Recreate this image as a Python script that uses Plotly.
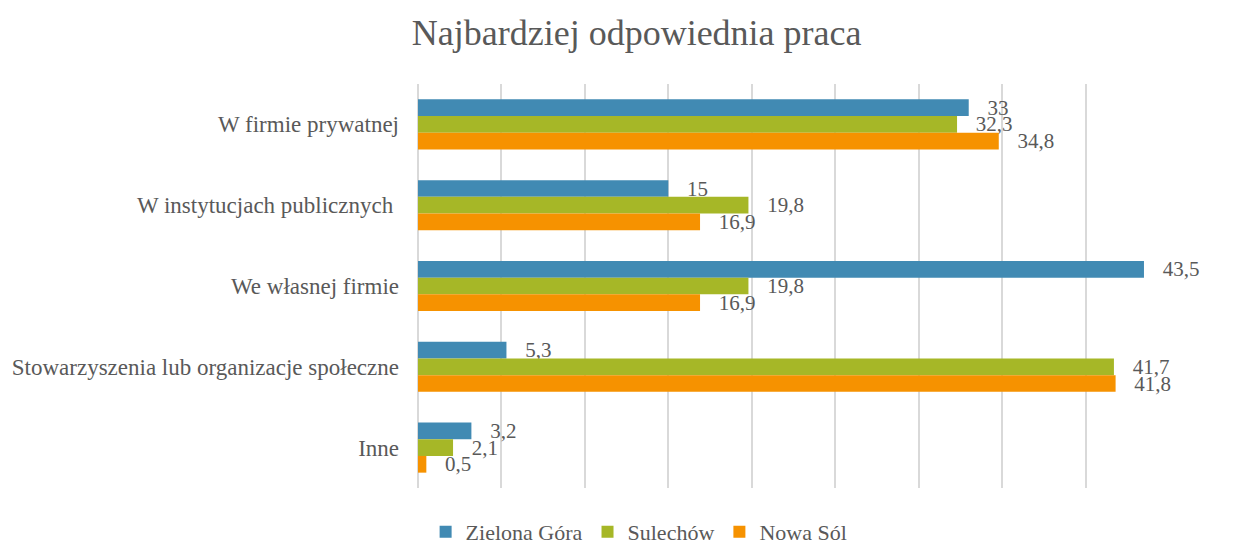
import plotly.graph_objects as go

categories = [
    "W firmie prywatnej",
    "W instytucjach publicznych ",
    "We własnej firmie",
    "Stowarzyszenia lub organizacje społeczne",
    "Inne",
]
zielona_gora = [33, 15, 43.5, 5.3, 3.2]
sulechow = [32.3, 19.8, 19.8, 41.7, 2.1]
nowa_sol = [34.8, 16.9, 16.9, 41.8, 0.5]

series = [
    ("Zielona Góra", zielona_gora, "#418AB3"),
    ("Sulechów", sulechow, "#A6B727"),
    ("Nowa Sól", nowa_sol, "#F69200"),
]

font_family = "Liberation Serif"
text_color = "#595959"
pad = "\u00a0\u00a0\u00a0"

fig = go.Figure()
for name, vals, color in series:
    fig.add_trace(
        go.Bar(
            y=categories,
            x=vals,
            name=name,
            orientation="h",
            marker=dict(color=color, line=dict(width=0)),
            text=[pad + f"{v:g}".replace(".", ",") for v in vals],
            textposition="outside",
            constraintext="none",
            cliponaxis=False,
            textfont=dict(size=21, color=text_color, family=font_family),
        )
    )

fig.update_layout(
    width=1241,
    height=545,
    barmode="group",
    bargap=0.38,
    bargroupgap=0,
    plot_bgcolor="white",
    paper_bgcolor="white",
    font=dict(family=font_family, color=text_color, size=21),
    title=dict(
        text="Najbardziej odpowiednia praca",
        xref="container",
        x=0.513,
        xanchor="center",
        yref="container",
        y=0.94,
        yanchor="middle",
        font=dict(size=36, color=text_color, family=font_family),
    ),
    margin=dict(l=418, r=72, t=84, b=57),
    legend=dict(
        orientation="h",
        xref="container",
        x=0.515,
        xanchor="center",
        yref="container",
        y=0.024,
        yanchor="middle",
        itemwidth=30,
        font=dict(size=22, color=text_color, family=font_family),
        traceorder="normal",
    ),
    showlegend=True,
)
fig.update_xaxes(
    range=[0, 45],
    dtick=5,
    showticklabels=False,
    showgrid=True,
    gridcolor="#D9D9D9",
    gridwidth=2,
    zeroline=True,
    zerolinecolor="#D9D9D9",
    zerolinewidth=2,
    fixedrange=True,
)
fig.update_yaxes(
    autorange="reversed",
    showgrid=False,
    ticks="",
    ticklabelstandoff=18,
    tickfont=dict(size=23, color=text_color, family=font_family),
)

fig.write_html(
    "out.html",
    config={"displayModeBar": False},
    post_script="document.body.style.margin='0';",
)
